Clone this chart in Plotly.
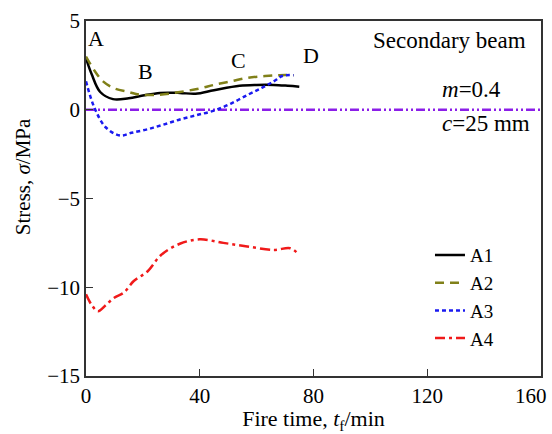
import plotly.graph_objects as go

a1_x = [0, 2, 5, 9.5, 15, 20, 26, 33, 38.5, 45, 54, 60, 66, 71, 75]
a1_y = [2.9, 2.0, 1.0, 0.6, 0.65, 0.8, 0.95, 0.95, 0.9, 1.1, 1.35, 1.4, 1.4, 1.35, 1.3]

a2_x = [0, 3, 6, 10, 15, 19, 26, 33, 40, 45, 51, 57, 63, 68, 73]
a2_y = [3.0, 2.2, 1.6, 1.2, 1.0, 0.85, 0.85, 1.0, 1.2, 1.4, 1.6, 1.8, 1.9, 1.95, 1.95]

a3_x = [0, 3, 7, 12, 16, 21.6, 27, 33, 39, 45, 51, 57, 62, 66, 69, 73]
a3_y = [1.6, 0.1, -1.0, -1.45, -1.3, -1.1, -0.85, -0.55, -0.3, -0.05, 0.35, 0.85, 1.25, 1.6, 1.9, 1.95]

a4_x = [0, 2, 4.2, 7, 9.8, 13.3, 16.8, 21.7, 26.3, 33, 40, 48.3, 56.7, 66, 71.8, 74.5]
a4_y = [-10.4, -11.0, -11.35, -11.0, -10.6, -10.3, -9.65, -9.1, -8.2, -7.55, -7.3, -7.5, -7.7, -7.9, -7.8, -8.1]

ref_x = [0, 160]
ref_y = [0, 0]

x_ticks = [0, 40, 80, 120]
x_ticktext = ["0", "40", "80", "120"]
x_max = 160
last_x_label = "160"
y_ticks = [-15, -10, -5, 0, 5]
y_ticktext = ["\u221215", "\u221210", "\u22125", "0", "5"]

point_labels = ["A", "B", "C", "D"]
point_label_x = [3.5, 21, 53.5, 79]
point_label_y = [4.0, 2.18, 2.8, 3.07]

FONT = "Liberation Serif, Times New Roman, serif"

fig = go.Figure()
fig.add_trace(go.Scatter(x=ref_x, y=ref_y, mode="lines", showlegend=False,
                         line=dict(color="#8B1EE8", width=2.5, dash="9px,3px,2px,3px,2px,3px")))
fig.add_trace(go.Scatter(x=a1_x, y=a1_y, mode="lines", name="A1", line_shape="spline",
                         line=dict(color="black", width=2.5)))
fig.add_trace(go.Scatter(x=a2_x, y=a2_y, mode="lines", name="A2", line_shape="spline",
                         line=dict(color="#808019", width=2.5, dash="9px,6px")))
fig.add_trace(go.Scatter(x=a3_x, y=a3_y, mode="lines", name="A3", line_shape="spline",
                         line=dict(color="#1A1AF0", width=2.5, dash="4px,3px")))
fig.add_trace(go.Scatter(x=a4_x, y=a4_y, mode="lines", name="A4", line_shape="spline",
                         line=dict(color="#F01A1A", width=2.5, dash="10px,4px,3px,4px")))

for t, x, y in zip(point_labels, point_label_x, point_label_y):
    fig.add_annotation(x=x, y=y, text=t, showarrow=False, xanchor="center",
                       font=dict(family=FONT, size=22, color="black"))

fig.add_annotation(x=0.626, y=0.944, xref="paper", yref="paper", text="Secondary beam",
                   showarrow=False, xanchor="left", yanchor="middle",
                   font=dict(family=FONT, size=23, color="black"))
fig.add_annotation(x=0.779, y=0.808, xref="paper", yref="paper", text="<i>m</i>=0.4",
                   showarrow=False, xanchor="left", yanchor="middle",
                   font=dict(family=FONT, size=23, color="black"))
fig.add_annotation(x=0.779, y=0.711, xref="paper", yref="paper", text="<i>c</i>=25 mm",
                   showarrow=False, xanchor="left", yanchor="middle",
                   font=dict(family=FONT, size=23, color="black"))

# y-axis title (positioned above centre as in the reference)
fig.add_annotation(x=0, y=0.56, xref="paper", yref="paper", text="Stress, <i>\u03c3</i>/MPa",
                   showarrow=False, textangle=-90, xanchor="center", yanchor="middle", xshift=-63,
                   font=dict(family=FONT, size=21, color="black"))
# last x tick label kept inside the page
fig.add_annotation(x=x_max, y=0, xref="x", yref="paper", text=last_x_label,
                   showarrow=False, xanchor="right", yanchor="top", xshift=8, yshift=-6,
                   font=dict(family=FONT, size=21, color="black"))

fig.update_layout(
    width=552, height=434,
    margin=dict(l=86, r=9, t=18, b=56),
    paper_bgcolor="white", plot_bgcolor="white",
    font=dict(family=FONT, size=21, color="black"),
    showlegend=True,
    legend=dict(x=0.756, y=0.394, xanchor="left", yanchor="top", bgcolor="rgba(0,0,0,0)",
                font=dict(family=FONT, size=19), tracegroupgap=0, itemwidth=30),
    xaxis=dict(range=[0, x_max], tickvals=x_ticks, ticktext=x_ticktext, ticks="inside", ticklen=7,
               tickwidth=1.2, tickcolor="#333",
               showline=True, linecolor="#333", linewidth=1.5, mirror=True, showgrid=False,
               zeroline=False, title=dict(text="Fire time, <i>t</i><sub>f</sub>/min", standoff=2,
                                          font=dict(family=FONT, size=22))),
    yaxis=dict(range=[-15, 5], tickvals=y_ticks, ticktext=y_ticktext,
               ticks="inside", ticklen=7, tickwidth=1.2, tickcolor="#333",
               showline=True, linecolor="#333", linewidth=1.5, mirror=True, showgrid=False,
               zeroline=False),
)

fig.write_html("out.html")
